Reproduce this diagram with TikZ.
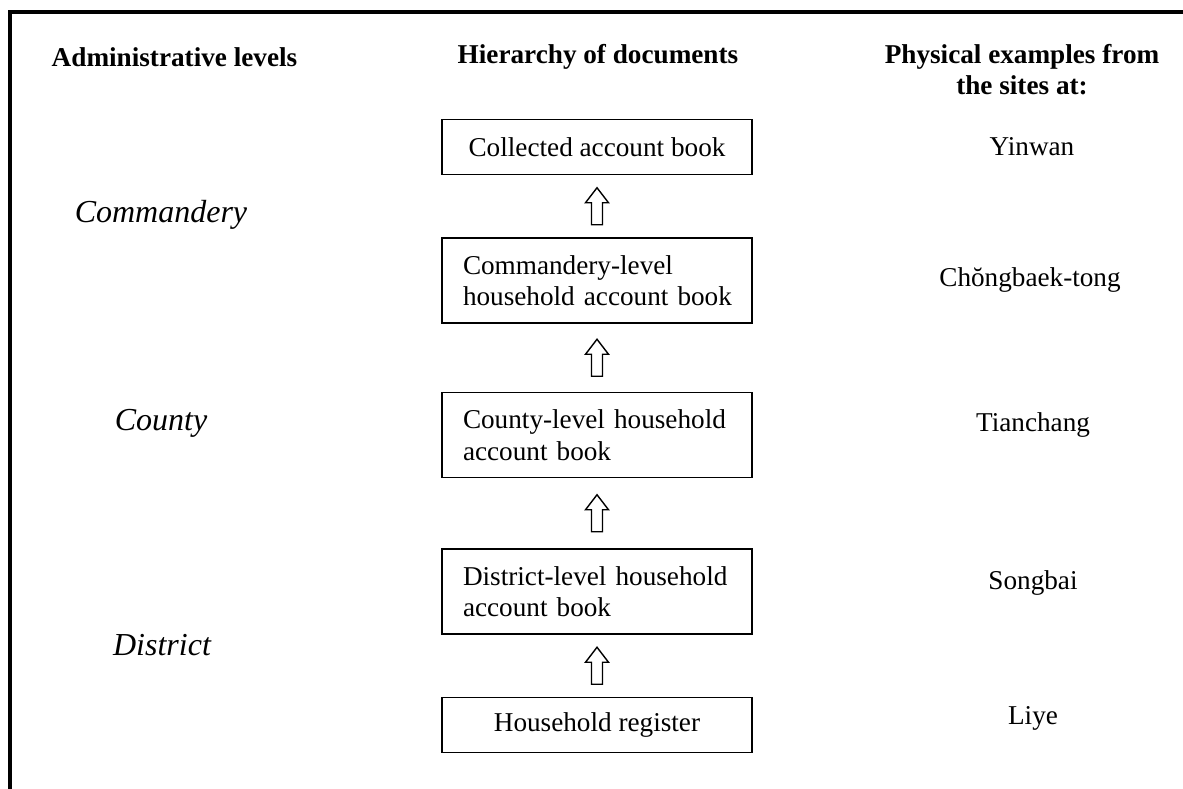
\documentclass[tikz,border=0pt]{standalone}
\usepackage{fontspec}
\setmainfont{Liberation Serif}
\usetikzlibrary{calc}
\tikzset{
  docbox/.style={draw, line width=1.4pt, minimum width=310pt, inner sep=0pt,
    font=\fontsize{27.2}{31.5}\selectfont},
  docboxtwo/.style={docbox, minimum height=85pt, text width=268pt, align=left},
  docboxone/.style={docbox, minimum height=55pt},
  head/.style={font=\fontsize{27.2}{31}\selectfont\bfseries, align=center},
  level/.style={font=\fontsize{32}{36}\selectfont\itshape},
  site/.style={font=\fontsize{27.2}{31}\selectfont},
  harrow/.style={draw, line width=1.4pt, fill=white, line join=miter},
  frame/.style={line width=4pt, line join=miter},
}
\begin{document}
\begin{tikzpicture}[x=1pt, y=-1pt]
\useasboundingbox (0,0) rectangle (1183,789);
% frame
\draw[frame] (10,800) -- (10,12) -- (1190,12);
% headers
\node[head] (h1) at (174.5,57) {Administrative levels};
\node[head] (h2) at (598,57) {Hierarchy of documents};
\node[head] (h3) at (1022,70) {Physical examples from\\the sites at:};
% levels
\node[level] (l1) at (161,215) {Commandery};
\node[level] (l2) at (161,423) {County};
\node[level] (l3) at (162,645) {District};
% documents
\node[docboxone] (b1) at (597,147) {Collected account book};
\node[docboxtwo] (b2) at (597,280.5) {\mbox{Commandery-level}\\\mbox{household account book}};
\node[docboxtwo] (b3) at (597,435) {\mbox{County-level household}\\\mbox{account book}};
\node[docboxtwo] (b4) at (597,591.5) {\mbox{District-level household}\\\mbox{account book}};
\node[docboxone] (b5) at (597,725) {Household register};
% sites
\node[site] (s1) at (1032,147) {Yinwan};
\node[site] (s2) at (1030,280) {Chŏngbaek-tong};
\node[site] (s3) at (1033,425) {Tianchang};
\node[site] (s4) at (1033,583) {Songbai};
\node[site] (s5) at (1033,718) {Liye};
% hollow up arrows
\foreach \lo/\up in {b2/b1, b3/b2, b4/b3, b5/b4}{
  \coordinate (m) at ($(\lo.north)!0.5!(\up.south)$);
  \draw[harrow] ($(m)+(0,-18.5)$) -- ($(m)+(11.5,-3.5)$) -- ($(m)+(5.5,-3.5)$)
    -- ($(m)+(5.5,18.5)$) -- ($(m)+(-5.5,18.5)$) -- ($(m)+(-5.5,-3.5)$)
    -- ($(m)+(-11.5,-3.5)$) -- cycle;
}
\end{tikzpicture}
\end{document}
